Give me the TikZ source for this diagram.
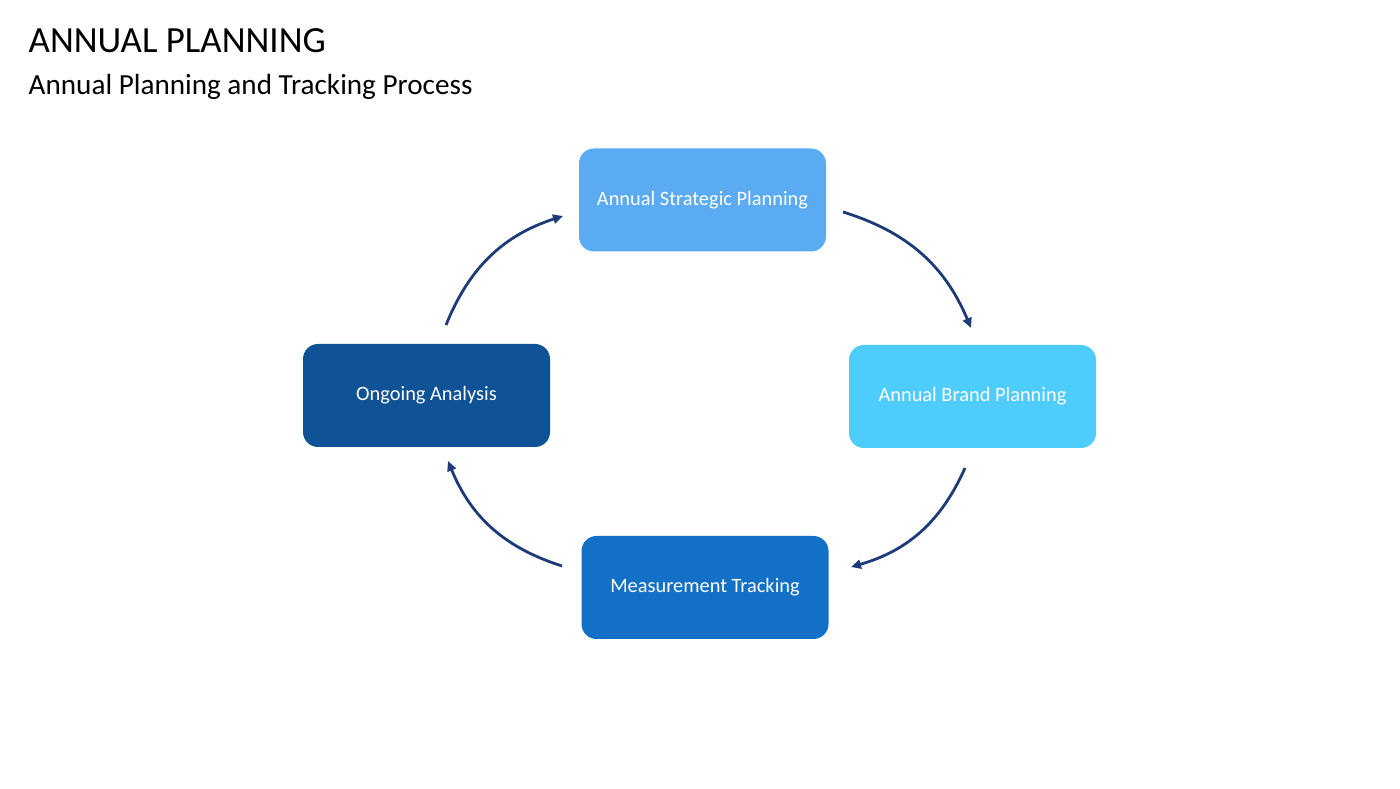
\documentclass[tikz,border=0pt]{standalone}
\usepackage{fontspec}
\setmainfont{Carlito}
\usepackage{xcolor}
\usetikzlibrary{shapes,arrows,arrows.meta,positioning}

\definecolor{stratblue}{HTML}{5AABF1}
\definecolor{brandblue}{HTML}{4ECCFB}
\definecolor{measblue}{HTML}{1270C6}
\definecolor{ongoblue}{HTML}{0F5295}
\definecolor{arrownavy}{HTML}{1E3A78}

\begin{document}
\begin{tikzpicture}[
    stage/.style={rectangle, rounded corners=0.15cm, minimum width=2.47cm, minimum height=1.03cm, inner sep=1pt, align=center, text=white, font=\fontsize{5.8pt}{7pt}\selectfont},
    arrow/.style={-{Triangle[length=0.1cm,width=0.09cm]}, line width=0.028cm, draw=arrownavy}
]
\useasboundingbox (0,0) rectangle (14,7.88);

% Titles
\node[anchor=base west, inner sep=0pt, font=\fontsize{10.5pt}{12pt}\selectfont] (title) at (0.28,7.35) {ANNUAL PLANNING};
\node[anchor=base west, inner sep=0pt, font=\fontsize{8.3pt}{10pt}\selectfont] (subtitle) at (0.28,6.93) {Annual Planning and Tracking Process};

% Process stages
\node[stage, fill=stratblue] (strategic) at (7.025,5.88) {Annual Strategic Planning};
\node[stage, fill=brandblue] (brand) at (9.725,3.915) {Annual Brand Planning};
\node[stage, fill=measblue] (measure) at (7.05,2.005) {Measurement Tracking};
\node[stage, fill=ongoblue] (ongoing) at (4.265,3.925) {Ongoing Analysis};

% Arrow ends
\coordinate (a1s) at (8.43,5.76);
\coordinate (a1e) at (9.71,4.60);
\coordinate (a2s) at (9.65,3.20);
\coordinate (a2e) at (8.51,2.21);
\coordinate (a3s) at (5.62,2.22);
\coordinate (a3e) at (4.48,3.27);
\coordinate (a4s) at (4.46,4.63);
\coordinate (a4e) at (5.63,5.72);

% Arrows
\draw[arrow] (a1s) to[bend left=25] (a1e);
\draw[arrow] (a2s) to[bend left=25] (a2e);
\draw[arrow] (a3s) to[bend left=25] (a3e);
\draw[arrow] (a4s) to[bend left=25] (a4e);

\end{tikzpicture}
\end{document}
